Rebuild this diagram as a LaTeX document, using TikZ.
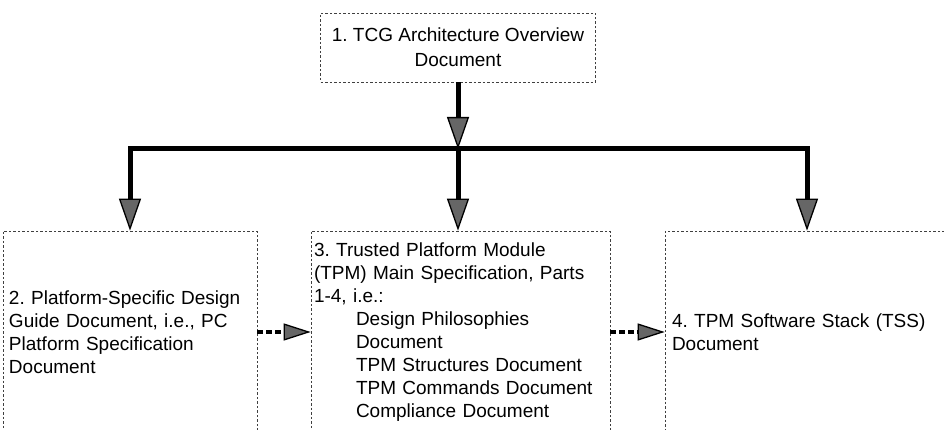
\documentclass[tikz,border=0pt]{standalone}
\usepackage{fontspec}
\setmainfont{Liberation Sans}
\usetikzlibrary{arrows.meta}
\frenchspacing
\begin{document}
\begin{tikzpicture}[x=1pt,y=-1pt,
  boxline/.style={draw=black!75, line width=0.7pt, dash pattern=on 2.5pt off 2pt},
  docbox/.style={boxline, minimum height=202pt, inner ysep=0pt, align=left,
    font=\fontsize{19}{23}\selectfont},
  topbox/.style={boxline, minimum width=275pt, minimum height=69pt, inner sep=0pt,
    align=center, font=\fontsize{19}{25}\selectfont},
  mainarrow/.style={line width=5pt, line join=miter,
    -{Triangle[width=22pt,length=32pt,line width=1.3pt,fill=black!60]}},
  sidearrow/.style={line width=4pt, dash pattern=on 6pt off 3pt,
    -{Triangle[width=17pt,length=27pt,line width=1.3pt,fill=black!60]}}]
\clip (0,0) rectangle (944,430);

\node[topbox] (b1) at (458,47.5) {1. TCG Architecture Overview\\Document};

\node[docbox, text width=242pt, inner xsep=6pt] (b2) at (130,332)
  {2. Platform-Specific Design\\Guide Document, i.e., PC\\Platform Specification\\Document};

\node[docbox, text width=293pt, inner xsep=3pt] (b3) at (460.5,332)
  {3. Trusted Platform Module\\(TPM) Main Specification, Parts\\1-4, i.e.:\\
   \hspace*{42pt}Design Philosophies\\
   \hspace*{42pt}Document\\
   \hspace*{42pt}TPM Structures Document\\
   \hspace*{42pt}TPM Commands Document\\
   \hspace*{42pt}Compliance Document};

\node[docbox, text width=270pt, inner xsep=7pt] (b4) at (807,332)
  {4. TPM Software Stack (TSS)\\Document};

\coordinate (j) at (458,149);

\draw[mainarrow] (b1.south) -- (j);
\draw[mainarrow] (j) -| (b2.north);
\draw[mainarrow] (j) -| (b4.north);
\draw[mainarrow] (j) -- (j |- b3.north);

\draw[sidearrow] (b2.east) -- (b3.west);
\draw[sidearrow] (b3.east) -- (b4.west);
\end{tikzpicture}
\end{document}
